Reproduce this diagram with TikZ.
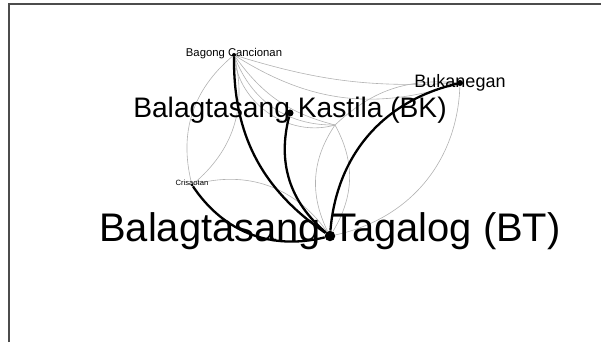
\documentclass[tikz,border=0pt]{standalone}
\usepackage{fontspec}
\setmainfont{Liberation Sans}
\usetikzlibrary{calc}

\begin{document}
\begin{tikzpicture}[%
    x=1pt, y=1pt,               % one unit per pixel of the layout
    ]

\tikzset{
  dot/.style={circle, fill=black, inner sep=0pt},
  lbl/.style={inner sep=0pt, anchor=base},
  strong/.style={line width=2.3pt, black},
  faint/.style={line width=0.6pt, black!30}
  };

\useasboundingbox (0,0) rectangle (601,342);
\draw[black!70, line width=2pt] (8.5,0) -- (8.5,338) -- (601,338);

% Nodes
\node[dot, minimum size=10.5pt] (balTagalog) at (330,106) {};
\node[dot, minimum size=7pt] (balKastila) at (290,229) {};
\node[dot, minimum size=6pt] (bukanegan) at (460,259) {};
\node[dot, minimum size=4pt] (cancionan) at (234,287) {};
\node[dot, minimum size=3pt] (crisaotan) at (192,157) {};
\coordinate (hub) at (335,217);

% Faint edges
\draw[faint] (bukanegan) to[bend left=38] (balTagalog);
\draw[faint] (crisaotan) to[bend left=35] (balTagalog);
\draw[faint] (cancionan) to[bend left=32] (crisaotan);
\draw[faint] (crisaotan) to[bend left=32] (cancionan);
\draw[faint] (hub) to[bend left=30] (balTagalog);
\draw[faint] (balTagalog) to[bend left=30] (hub);
\draw[faint] (cancionan) to[bend right=20] (hub);
\draw[faint] (cancionan) to[bend right=35] (hub);
\draw[faint] (cancionan) to[bend right=50] (hub);
\draw[faint] (hub) to[bend left=24] (bukanegan);
\draw[faint] (cancionan) to[bend right=10] (bukanegan);
\draw[faint] (cancionan) to[bend right=25] (bukanegan);

% Labels
\node[lbl, font=\fontsize{39.9}{40}\selectfont, yshift=-6pt] (balTagalogText)
    at (balTagalog) {Balagtasang Tagalog (BT)};
\node[lbl, font=\fontsize{28.2}{29}\selectfont, yshift=-5pt] (balKastilaText)
    at (balKastila) {Balagtasang Kastila (BK)};
\node[lbl, font=\fontsize{18}{19}\selectfont, yshift=-5pt] (bukaneganText)
    at (bukanegan) {Bukanegan};
\node[lbl, font=\fontsize{11.3}{12}\selectfont, yshift=-2pt] (cancionanText)
    at (cancionan) {Bagong Cancionan};
\node[lbl, font=\fontsize{7.6}{8}\selectfont, yshift=-1pt] (crisaotanText)
    at (crisaotan) {Crisaotan};

% Strong edges
\draw[strong] (balTagalog) to[bend left=28] (cancionan);
\draw[strong] (balTagalog) to[bend left=32] (balKastila);
\draw[strong] (balTagalog) to[bend left=36] (bukanegan);
\draw[strong] (balTagalog) to[bend left=35] (crisaotan);

\end{tikzpicture}
\end{document}
